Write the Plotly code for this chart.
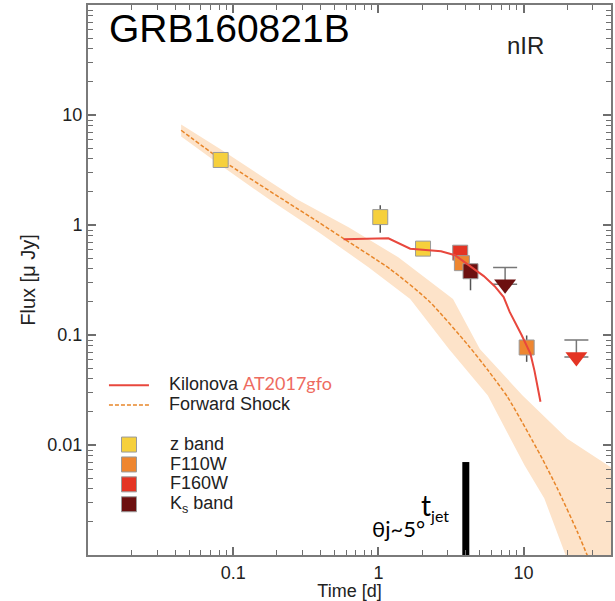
import numpy as np
import plotly.graph_objects as go

# ---- photometry (time in days, flux in micro-Jy) ----
z_t = [0.082, 1.03, 2.03]
z_f = [3.9, 1.18, 0.61]
z_err_hi = [0.2, 0.33, 0.04]
z_err_lo = [0.2, 0.33, 0.04]

f110_t = [3.76, 10.5]
f110_f = [0.45, 0.077]
f110_err_hi = [0.05, 0.022]
f110_err_lo = [0.05, 0.020]

f160_t = [3.66]
f160_f = [0.56]
f160_err = [0.04]

ks_t = [4.31]
ks_f = [0.38]
ks_err_hi = [0.05]
ks_err_lo = [0.125]

# upper limits: bar level and arrow-head position
ul_ks_t = [7.46]
ul_ks_bar = [0.41]
ul_ks_head = [0.29]

ul_f160_t = [23.1]
ul_f160_bar = [0.090]
ul_f160_head = [0.063]

# ---- kilonova (AT2017gfo) template ----
kn_t = [0.576, 1.171, 1.656, 2.70, 3.37, 4.13, 5.32, 6.32, 7.29, 8.02, 9.69, 11.16, 11.89, 13.07]
kn_f = [0.742, 0.758, 0.608, 0.578, 0.531, 0.440, 0.343, 0.278, 0.221, 0.162, 0.100, 0.0673, 0.0472, 0.0247]

# ---- forward shock model and its uncertainty band ----
fs_t = [0.0438, 0.0824, 0.388, 0.576, 1.208, 2.236, 4.174, 5.67, 7.77, 13.07, 17.09, 23.4, 27.4, 29.5]
fs_f = [7.27, 3.94, 1.058, 0.753, 0.397, 0.203, 0.080, 0.048, 0.0272, 0.00805, 0.00402, 0.00164, 0.001, 0.0008]

band_hi_t = [0.0438, 0.0824, 0.2745, 0.623, 1.371, 3.265, 4.996, 9.84, 20.0, 39.4, 60.0, 60.0]
band_hi_f = [8.18, 4.86, 1.71, 0.953, 0.509, 0.212, 0.0746, 0.0282, 0.0114, 0.00635, 0.004, 0.0005]
band_lo_t = [0.0438, 0.0824, 0.1765, 0.388, 0.854, 1.656, 3.06, 5.67, 10.15, 13.9, 19.4, 21.7]
band_lo_f = [6.37, 3.48, 1.71, 0.859, 0.414, 0.212, 0.0746, 0.0282, 0.00653, 0.00326, 0.00101, 0.0005]

# jet break
t_jet = [4.0, 4.0]
jet_f = [0.0009, 0.007]

# axis ticks
x_major = [0.1, 1, 10]
x_major_text = ["0.1", "1", "10"]
y_major = [0.01, 0.1, 1, 10]
y_major_text = ["0.01", "0.1", "1", "10"]

# ---- styling ----
C_Z = "#f6d03c"
C_F110 = "#ee8630"
C_F160 = "#e43424"
C_KS = "#6c1010"
C_KN = "#e8473d"
C_FS = "#e8862a"
C_BAND = "#fde3c9"
AXC = "#7a7a7a"
TICKC = "#6e6e6e"
TXT = "#222222"
ERRC = "#555555"
NB = "\u00a0"

fig = go.Figure()

# uncertainty band
fig.add_trace(go.Scatter(
    x=band_hi_t + band_lo_t[::-1], y=band_hi_f + band_lo_f[::-1],
    fill="toself", fillcolor=C_BAND, line=dict(width=0), mode="lines",
    showlegend=False, hoverinfo="skip"))

# forward shock
fig.add_trace(go.Scatter(
    x=fs_t, y=fs_f, mode="lines",
    line=dict(color=C_FS, width=1.5, dash="4px,2px", shape="spline", smoothing=0.6),
    showlegend=False, hoverinfo="skip"))


def leg(txt):
    return '<span style="font-size:18px">' + txt + '</span>'


def square_trace(t, f, hi, lo, color, name, rank):
    return go.Scatter(
        x=t, y=f, mode="markers", name=leg(name), legend="legend2", legendrank=rank,
        marker=dict(symbol="square", size=15, color=color, line=dict(color="#9a9a9a", width=1)),
        error_y=dict(type="data", array=hi, arrayminus=lo, color=ERRC, thickness=1.5, width=0))


fig.add_trace(square_trace(f160_t, f160_f, f160_err, f160_err, C_F160, "F160W", 3))
fig.add_trace(square_trace(z_t, z_f, z_err_hi, z_err_lo, C_Z, "z band", 1))
fig.add_trace(square_trace(f110_t, f110_f, f110_err_hi, f110_err_lo, C_F110, "F110W", 2))
fig.add_trace(square_trace(ks_t, ks_f, ks_err_hi, ks_err_lo, C_KS, "K<sub>s</sub> band", 4))

# upper limits
for t, bar, head, color in [(ul_ks_t, ul_ks_bar, ul_ks_head, C_KS),
                            (ul_f160_t, ul_f160_bar, ul_f160_head, C_F160)]:
    fig.add_trace(go.Scatter(
        x=t, y=head, mode="markers", showlegend=False,
        marker=dict(symbol="triangle-down", size=19, color=color, line=dict(width=0)),
        error_y=dict(type="data", array=[b - h for b, h in zip(bar, head)], arrayminus=[0] * len(t),
                     color="#777777", thickness=1.5, width=12)))

# kilonova template
fig.add_trace(go.Scatter(
    x=kn_t, y=kn_f, mode="lines", line=dict(color=C_KN, width=2),
    name=leg(NB * 3 + 'Kilonova </span><span style="font-size:18px;color:#ee6b60;font-family:Lato">AT2017gfo'),
    legend="legend", legendrank=1))
# forward shock legend entry
fig.add_trace(go.Scatter(
    x=[None], y=[None], mode="lines", line=dict(color=C_FS, width=1.5, dash="4px,2px"),
    name=leg(NB * 3 + "Forward Shock"), legend="legend", legendrank=2))

# jet break marker
fig.add_trace(go.Scatter(
    x=t_jet, y=jet_f, mode="lines", line=dict(color="black", width=7),
    showlegend=False, hoverinfo="skip"))

axis_common = dict(
    type="log", showline=True, linecolor=AXC, linewidth=2, mirror="ticks",
    ticks="inside", ticklen=8, tickwidth=1.6, tickcolor=TICKC, showgrid=False, zeroline=False,
    tickfont=dict(family="Liberation Sans, Arial", size=18, color=TXT),
)
minor_common = dict(ticks="inside", ticklen=5, tickwidth=1.4, tickcolor=TICKC, showgrid=False, dtick="D1")

fig.update_layout(
    width=615, height=601,
    margin=dict(l=88, r=2, t=5, b=45),
    plot_bgcolor="white", paper_bgcolor="white",
    xaxis=dict(
        **axis_common, range=[-2, np.log10(40)],
        tickmode="array", tickvals=x_major, ticktext=x_major_text,
        minor=minor_common,
        title=dict(text="Time [d]", font=dict(family="Liberation Sans, Arial", size=18, color=TXT), standoff=4),
    ),
    yaxis=dict(
        **axis_common, range=[-3, 2],
        tickmode="array", tickvals=y_major, ticktext=y_major_text,
        minor=minor_common,
        title=dict(text="Flux [μ Jy]", font=dict(family="Liberation Sans, Arial", size=20, color=TXT), standoff=6),
    ),
    legend=dict(x=0.0305, y=0.336, xanchor="left", yanchor="top", bgcolor="rgba(0,0,0,0)",
                font=dict(family="Liberation Sans, Arial", size=13, color=TXT),
                itemwidth=40, tracegroupgap=0, traceorder="normal"),
    legend2=dict(x=0.0, y=0.228, xanchor="left", yanchor="top", bgcolor="rgba(0,0,0,0)",
                 font=dict(family="Liberation Sans, Arial", size=13, color=TXT),
                 itemwidth=72, tracegroupgap=0, traceorder="normal"),
    annotations=[
        dict(text="GRB160821B", xref="paper", yref="paper", x=0.036, y=0.9564,
             xanchor="left", yanchor="middle", showarrow=False,
             font=dict(family="Liberation Sans, Arial", size=39, color="black")),
        dict(text="nIR", xref="paper", yref="paper", x=0.836, y=0.9256,
             xanchor="center", yanchor="middle", showarrow=False,
             font=dict(family="Liberation Sans, Arial", size=24, color=TXT)),
        dict(text="θj~5°", xref="paper", yref="paper", x=0.594, y=0.049,
             xanchor="center", yanchor="middle", showarrow=False,
             font=dict(family="Lato", size=22, color="black")),
        dict(text='t<sub><span style="font-size:16px">jet</span></sub>', xref="paper", yref="paper",
             x=0.632, y=0.089, xanchor="left", yanchor="middle", showarrow=False,
             font=dict(family="Lato", size=28, color="black")),
    ],
)

fig.write_html("out.html")
